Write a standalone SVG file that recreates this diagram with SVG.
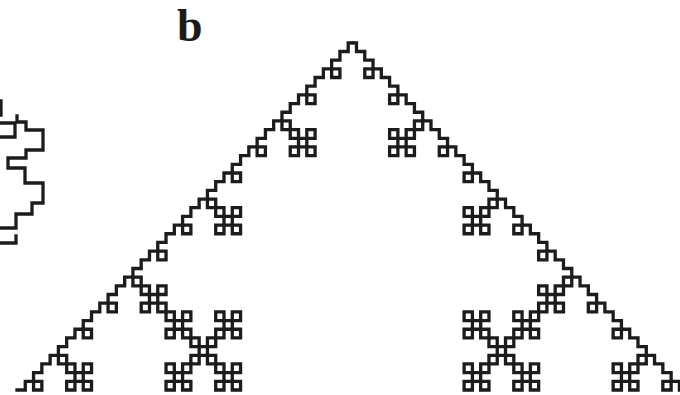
<svg xmlns="http://www.w3.org/2000/svg" xmlns:xlink="http://www.w3.org/1999/xlink" width="680" height="395" viewBox="0 0 680 395">
<style>
.ln{fill:none;stroke:#1c1c1c;stroke-width:3.3;vector-effect:non-scaling-stroke;stroke-linejoin:miter;stroke-linecap:square}
.lbl{font-family:"Liberation Serif","Times New Roman",serif;font-weight:bold;font-size:46px;fill:#1c1c1c}
</style>
<defs>
<rect id="s" class="ln" width="1" height="1"/>
<g id="k1">
<use xlink:href="#s" x="0" y="0"/><use xlink:href="#s" x="2" y="0"/><use xlink:href="#s" x="1" y="1"/><use xlink:href="#s" x="0" y="2"/><use xlink:href="#s" x="2" y="2"/>
</g>
<g id="k2">
<use xlink:href="#k1" x="0" y="0"/><use xlink:href="#k1" x="6" y="0"/><use xlink:href="#k1" x="3" y="3"/><use xlink:href="#k1" x="0" y="6"/><use xlink:href="#k1" x="6" y="6"/>
</g>
<g id="half">
<path class="ln" d="M0 0H1V1H2V2H3V3H4V4H5V5H6V6H7V7H8V8H9V9H10V10H11V11H12V12H13V13H14V14H15V15H16V16H17V17H18V18H19V19H20V20H21V21H22V22H23V23H24V24H25V25H26V26H27V27H28V28H29V29H30V30H31V31H32V32H33V33H34V34H35V35H36V36H37V37H38V38H39V39H40V40H40.5"/>
<use xlink:href="#s" x="2" y="0"/>
<use xlink:href="#s" x="8" y="6"/>
<use xlink:href="#s" x="11" y="9"/>
<use xlink:href="#s" x="17" y="15"/>
<use xlink:href="#s" x="20" y="18"/>
<use xlink:href="#s" x="26" y="24"/>
<use xlink:href="#s" x="29" y="27"/>
<use xlink:href="#s" x="35" y="33"/>
<use xlink:href="#s" x="38" y="36"/>
<use xlink:href="#s" x="5" y="3"/><use xlink:href="#k1" x="6" y="0"/>
<use xlink:href="#s" x="23" y="21"/><use xlink:href="#k1" x="24" y="18"/>
<use xlink:href="#s" x="32" y="30"/><use xlink:href="#k1" x="33" y="27"/>
<use xlink:href="#s" x="14" y="12"/><use xlink:href="#k1" x="15" y="9"/><use xlink:href="#k2" x="18" y="0"/>
</g>
</defs>
<g id="label-b"><text class="lbl" x="177" y="41">b</text></g>
<g id="panel-a">
<path class="ln" d="M1 101V115 M0 123H15V137H0 M17 116V122H26V130H43V150H26V158H8V168H25V183H43V203H32V214H16V228H0 M0 243H16V236"/>
</g>
<g id="panel-b">
<g id="left-half" transform="translate(17 390) scale(8.28 -8.68)"><use xlink:href="#half"/></g>
<g id="right-half" transform="translate(17 390) scale(8.28 -8.68) translate(81 0) scale(-1 1)"><use xlink:href="#half"/></g>
</g>
</svg>
